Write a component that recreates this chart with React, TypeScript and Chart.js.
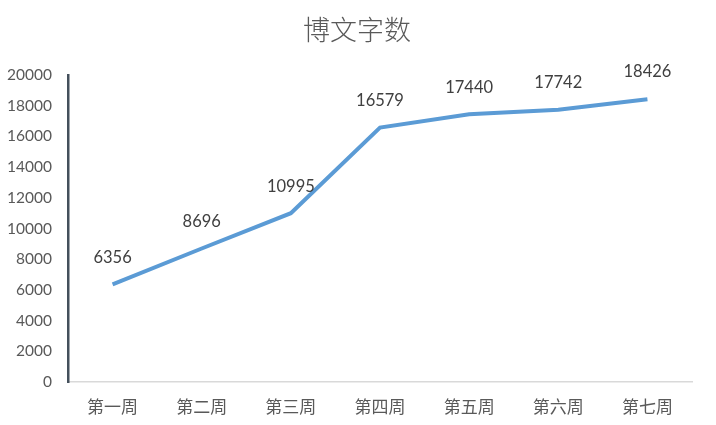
import React, { useEffect, useRef } from "react";
import { Chart, registerables } from "chart.js";

Chart.register(...registerables);

const categories = ["第一周", "第二周", "第三周", "第四周", "第五周", "第六周", "第七周"];
const wordCounts = [6356, 8696, 10995, 16579, 17440, 17742, 18426];
const chartTitle = "博文字数";
const yMin = 0;
const yMax = 20000;
const yStep = 2000;

const NUM_FONT = "Lato, 'Noto Sans', sans-serif";
const CJK_FONT = "'Noto Sans CJK SC', sans-serif";

const labelPlugin = {
  id: "valueLabels",
  afterDatasetsDraw(chart: any) {
    const ctx = chart.ctx;
    const meta = chart.getDatasetMeta(0);
    const data = chart.data.datasets[0].data as number[];
    ctx.save();
    ctx.font = `16.5px ${NUM_FONT}`;
    ctx.fillStyle = "#404040";
    ctx.textAlign = "center";
    ctx.textBaseline = "middle";
    meta.data.forEach((pt: any, i: number) => {
      ctx.fillText(String(data[i]), pt.x, pt.y - 27);
    });
    ctx.restore();
  },
};

const titlePlugin = {
  id: "topTitle",
  afterDraw(chart: any) {
    const ctx = chart.ctx;
    ctx.save();
    ctx.font = `300 27px ${CJK_FONT}`;
    ctx.fillStyle = "#595959";
    ctx.textAlign = "center";
    ctx.textBaseline = "middle";
    ctx.fillText(chartTitle, 357, 30);
    ctx.restore();
  },
};

export default function App() {
  const ref = useRef<HTMLCanvasElement | null>(null);
  useEffect(() => {
    document.body.style.margin = "0";
    if (!ref.current) return;
    const chart = new Chart(ref.current, {
      type: "line",
      data: {
        labels: categories,
        datasets: [
          {
            data: wordCounts,
            borderColor: "#5B9BD5",
            borderWidth: 4,
            pointRadius: 0,
            tension: 0,
            fill: false,
          },
        ],
      },
      options: {
        animation: false,
        responsive: false,
        maintainAspectRatio: false,
        layout: { padding: { top: 75, right: 24, left: 0, bottom: 0 } },
        plugins: {
          legend: { display: false },
          tooltip: { enabled: false },
          title: { display: false },
        },
        scales: {
          x: {
            offset: true,
            grid: { display: false },
            border: { display: true, color: "#D9D9D9", width: 1.5 },
            ticks: {
              color: "#595959",
              font: { family: CJK_FONT, size: 17 },
              padding: 6,
              maxRotation: 0,
            },
            afterFit(scale: any) {
              scale.height = 425 - 382;
            },
          },
          y: {
            min: yMin,
            max: yMax,
            grid: { display: false },
            border: { display: true, color: "#44505C", width: 2.5 },
            ticks: {
              stepSize: yStep,
              color: "#595959",
              font: { family: NUM_FONT, size: 15.5 },
              padding: 8,
              callback: (v: any) => String(v),
            },
            afterFit(scale: any) {
              scale.width = 68;
            },
          },
        },
      },
      plugins: [labelPlugin, titlePlugin],
    });
    return () => chart.destroy();
  }, []);
  return (
    <div style={{ width: 716, height: 425, background: "#fff" }}>
      <canvas ref={ref} width={716} height={425} style={{ width: 716, height: 425 }} />
    </div>
  );
}
